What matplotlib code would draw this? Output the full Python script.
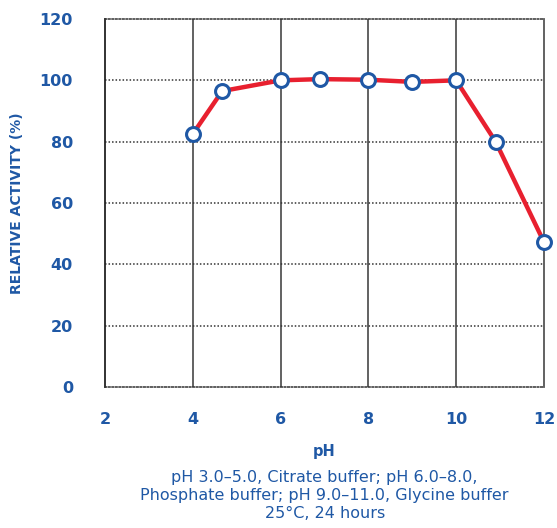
import numpy as np
import matplotlib.pyplot as plt

# values
ph = [4.0, 4.67, 6.0, 6.9, 8.0, 9.0, 10.0, 10.9, 12.0]
activity = [82.5, 96.5, 100.0, 100.4, 100.2, 99.5, 100.0, 80.0, 47.3]
xticks = [2, 4, 6, 8, 10, 12]
yticks = [0, 20, 40, 60, 80, 100, 120]

blue = "#1f58a5"
red = "#e8202f"
dots = (0, (1, 1.3))

fig = plt.figure(figsize=(5.57, 5.28), dpi=100)
ax = fig.add_axes([0.1885, 0.267, 0.788, 0.697])

ax.set_xlim(2, 12)
ax.set_ylim(0, 120)
ax.set_xticks(xticks)
ax.set_yticks(yticks)

# vertical solid grid, horizontal dotted grid
for x in xticks[1:-1]:
    ax.axvline(x, color="#555555", lw=1.3, zorder=1)
for y in yticks[1:-1]:
    ax.axhline(y, color="#333333", lw=1.1, ls=dots, zorder=1)

ax.spines["left"].set_color("#222222")
ax.spines["left"].set_linewidth(1.3)
ax.spines["right"].set_color("#555555")
ax.spines["right"].set_linewidth(1.3)
for s in ["top", "bottom"]:
    ax.spines[s].set_linestyle(dots)
    ax.spines[s].set_color("#333333")
    ax.spines[s].set_linewidth(1.1)

ax.tick_params(length=0, colors=blue, labelsize=11.5)
ax.tick_params(axis="y", pad=23)
ax.tick_params(axis="x", pad=18)
for lab in ax.get_xticklabels() + ax.get_yticklabels():
    lab.set_fontweight("bold")

ax.plot(ph, activity, color=red, lw=3.2, zorder=3, clip_on=False,
        marker="o", markersize=10, markerfacecolor="white",
        markeredgecolor=blue, markeredgewidth=2.2)

ax.set_ylabel("RELATIVE ACTIVITY (%)", color=blue, fontsize=10,
              fontweight="bold", labelpad=11)
ax.set_xlabel("pH", color=blue, fontsize=10.5, fontweight="bold", labelpad=12)

fig.text(0.583, 1 - 470 / 528,
         "pH 3.0–5.0, Citrate buffer; pH 6.0–8.0,\n"
         "Phosphate buffer; pH 9.0–11.0, Glycine buffer\n"
         "25°C, 24 hours",
         ha="center", va="top", color=blue, fontsize=11.5, linespacing=1.25)

fig.savefig("out.png", dpi=100)
